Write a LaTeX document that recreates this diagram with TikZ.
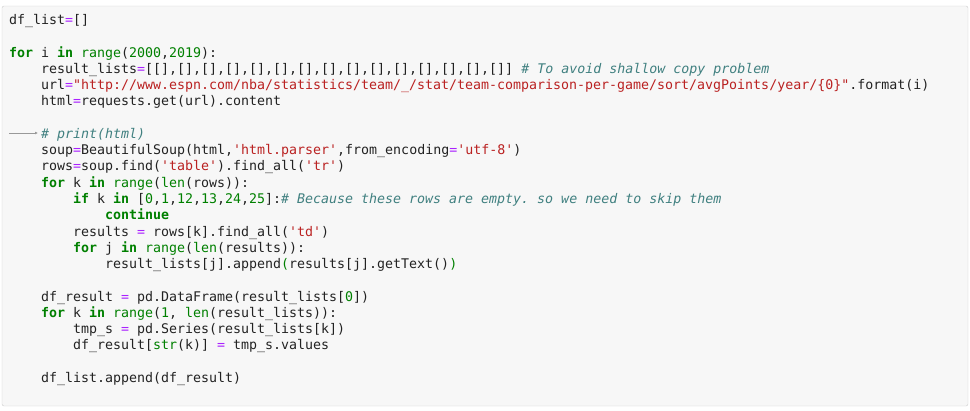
\documentclass[tikz,border=0pt]{standalone}
\usepackage{fontspec}
\usetikzlibrary{arrows.meta}
\setmonofont{DejaVu Sans Mono}
\definecolor{kwc}{HTML}{008000}
\definecolor{strc}{HTML}{BA2121}
\definecolor{comc}{HTML}{408080}
\definecolor{opc}{HTML}{AA22FF}
\definecolor{txc}{HTML}{222222}
\newcommand{\ckw}[1]{\textcolor{kwc}{\bfseries #1}}
\newcommand{\cnum}[1]{\textcolor{kwc}{#1}}
\newcommand{\cstr}[1]{\textcolor{strc}{#1}}
\newcommand{\ccom}[1]{\textcolor{comc}{\itshape #1}}
\newcommand{\cop}{\textcolor{opc}{=}}
\begin{document}
\begin{tikzpicture}[x=1pt,y=-1pt,
  codeline/.style={anchor=base west,inner sep=0pt,text=txc,font=\ttfamily\fontsize{13.29}{16}\selectfont}]
\useasboundingbox (0,0) rectangle (970,410);
\draw[draw=black!20,fill=black!3,rounded corners=2pt] (2,6) rectangle (968,406);
\def\L#1#2#3{\node[codeline] (l#1) at ({9+8*#2},{24.5+16.27*#1}) {#3};}
\L{0}{0}{df\_list\cop[]}
\L{2}{0}{\ckw{for} i \ckw{in} \cnum{range}(\cnum{2000},\cnum{2019}):}
\L{3}{4}{result\_lists\cop[[],[],[],[],[],[],[],[],[],[],[],[],[],[],[]] \ccom{\# To avoid shallow copy problem}}
\L{4}{4}{url\cop\cstr{"http://www.espn.com/nba/statistics/team/\_/stat/team-comparison-per-game/sort/avgPoints/year/\{0\}"}.format(i)}
\L{5}{4}{html\cop requests.get(url).content}
\L{7}{4}{\ccom{\# print(html)}}
\L{8}{4}{soup\cop BeautifulSoup(html,\cstr{'html.parser'},from\_encoding\cop\cstr{'utf-8'})}
\L{9}{4}{rows\cop soup.find(\cstr{'table'}).find\_all(\cstr{'tr'})}
\L{10}{4}{\ckw{for} k \ckw{in} \cnum{range}(\cnum{len}(rows)):}
\L{11}{8}{\ckw{if} k \ckw{in} [\cnum{0},\cnum{1},\cnum{12},\cnum{13},\cnum{24},\cnum{25}]:\ccom{\# Because these rows are empty. so we need to skip them}}
\L{12}{12}{\ckw{continue}}
\L{13}{8}{results \cop{} rows[k].find\_all(\cstr{'td'})}
\L{14}{8}{\ckw{for} j \ckw{in} \cnum{range}(\cnum{len}(results)):}
\L{15}{12}{result\_lists[j].append\textcolor{kwc}{(}results[j].getText()\textcolor{kwc}{)}}
\L{17}{4}{df\_result \cop{} pd.DataFrame(result\_lists[\cnum{0}])}
\L{18}{4}{\ckw{for} k \ckw{in} \cnum{range}(\cnum{1}, \cnum{len}(result\_lists)):}
\L{19}{8}{tmp\_s \cop{} pd.Series(result\_lists[k])}
\L{20}{8}{df\_result[\cnum{str}(k)] \cop{} tmp\_s.values}
\L{22}{4}{df\_list.append(df\_result)}
\coordinate (as) at (9,133);
\coordinate (ae) at (38,133);
\draw[black!40,line width=0.6pt,-{Latex[length=3pt,width=3pt]}] (as) -- (ae);
\end{tikzpicture}
\end{document}
